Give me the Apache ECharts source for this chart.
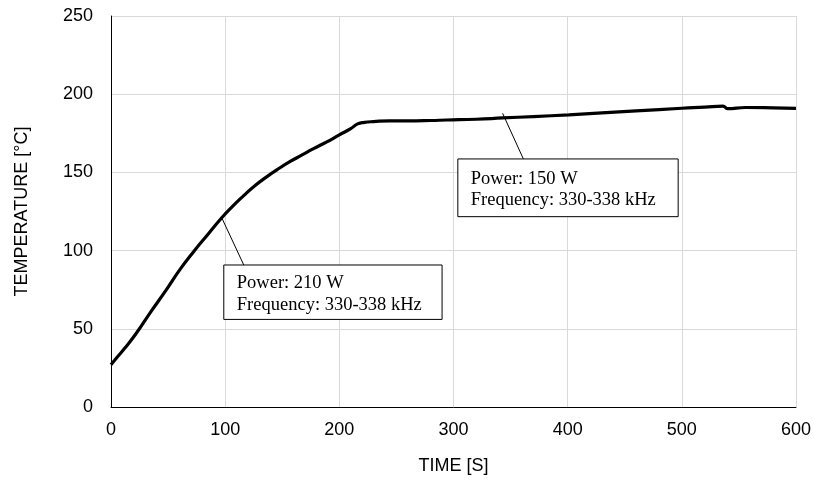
<!DOCTYPE html>
<html><head><meta charset="utf-8">
<script src="https://cdn.jsdelivr.net/npm/echarts@6/dist/echarts.min.js"></script>
<style>html,body{margin:0;padding:0;background:#fff}#c{width:814px;height:481px}</style>
</head><body><div id="c"></div>
<script>
const times = [0, 5, 12, 22, 35, 49, 60, 72, 85, 97, 106, 116, 126, 136, 146, 157, 167, 177, 189, 200, 210, 216, 222, 230, 244, 260, 280, 294, 320, 343, 370, 401, 430, 460, 500, 520, 536, 540, 556, 580, 600];
const temps = [27, 31.5, 37.5, 47, 61, 75.5, 87.5, 99, 110.5, 121, 128, 135, 141.5, 147, 152, 157, 161, 165, 169.5, 174, 178, 181, 182, 182.5, 183, 183, 183.2, 183.5, 184, 184.8, 185.7, 186.8, 188, 189.3, 191, 191.7, 192.4, 190.8, 191.5, 191.3, 191];
const notes = [
  {lines: ['Power: 210 W', 'Frequency: 330-338 kHz'], from: [97, 121], to: [116.3, 90.8], box: [98.8, 90.8, 290, 56]},
  {lines: ['Power: 150 W', 'Frequency: 330-338 kHz'], from: [343, 187.8], to: [361.2, 158.6], box: [303.8, 158.6, 496.8, 121.7]}
];
const chart = echarts.init(document.getElementById('c'), null, {renderer: 'canvas'});
const option = {
  animation: false,
  grid: {left: 111, right: 17, top: 16, bottom: 74},
  xAxis: {
    type: 'value', min: 0, max: 600, interval: 100,
    name: 'TIME [S]', nameLocation: 'middle', nameGap: 50,
    nameTextStyle: {fontFamily: 'Liberation Sans', fontSize: 18, color: '#000'},
    axisLine: {lineStyle: {color: '#000', width: 1}},
    axisTick: {show: false},
    axisLabel: {fontFamily: 'Liberation Sans', fontSize: 18, color: '#000', margin: 14},
    splitLine: {lineStyle: {color: '#d9d9d9', width: 1}}
  },
  yAxis: {
    type: 'value', min: 0, max: 250, interval: 50,
    name: 'TEMPERATURE [°C]', nameLocation: 'middle', nameGap: 80, nameRotate: 90,
    nameTextStyle: {fontFamily: 'Liberation Sans', fontSize: 18, color: '#000'},
    axisLine: {show: true, lineStyle: {color: '#000', width: 1}},
    axisTick: {show: false},
    axisLabel: {fontFamily: 'Liberation Sans', fontSize: 18, color: '#000', margin: 18},
    splitLine: {lineStyle: {color: '#d9d9d9', width: 1}}
  },
  series: [{
    type: 'line', data: times.map((t, i) => [t, temps[i]]),
    showSymbol: false, smooth: 0.5,
    lineStyle: {color: '#000', width: 3.2}
  }]
};
chart.setOption(option);
const g = [];
notes.forEach(n => {
  const a = chart.convertToPixel({gridIndex: 0}, n.from);
  const b = chart.convertToPixel({gridIndex: 0}, n.to);
  const p1 = chart.convertToPixel({gridIndex: 0}, [n.box[0], n.box[1]]);
  const p2 = chart.convertToPixel({gridIndex: 0}, [n.box[2], n.box[3]]);
  g.push({type: 'line', shape: {x1: a[0], y1: a[1], x2: b[0], y2: b[1]}, style: {stroke: '#000', lineWidth: 1}, z: 10});
  g.push({type: 'rect', shape: {x: p1[0], y: p1[1], width: p2[0] - p1[0], height: p2[1] - p1[1]}, style: {fill: '#fff', stroke: '#000', lineWidth: 1}, z: 10});
  g.push({type: 'text', x: p1[0] + 13, y: (p1[1] + p2[1]) / 2 + 2, z: 11,
    style: {text: n.lines.join('\n'), fontFamily: 'Liberation Serif', fontSize: 18.5, lineHeight: 21.5, fill: '#000', verticalAlign: 'middle', align: 'left'}});
});
chart.setOption({graphic: g});
</script></body></html>
